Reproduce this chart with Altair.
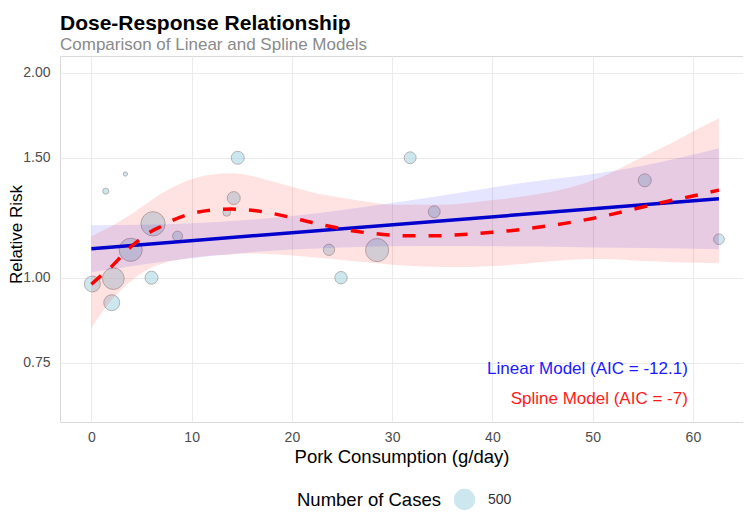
import altair as alt
import pandas as pd

# ---- observed studies (bubbles) ----
dose = [0.1, 1.43, 3.39, 2.19, 2.03, 3.92, 6.15, 6.0, 8.6, 13.5, 14.2, 14.6,
        23.7, 24.9, 28.5, 31.8, 34.2, 55.2, 62.6]
rr = [0.979, 1.34, 1.42, 0.997, 0.919, 1.099, 1.20, 1.0, 1.151, 1.247, 1.309, 1.50,
      1.099, 1.0, 1.098, 1.50, 1.25, 1.39, 1.139]
cases = [280, 40, 20, 520, 280, 590, 650, 185, 110, 65, 185, 185,
         140, 170, 590, 155, 155, 185, 125]

# ---- linear model fit and CI ----
lin_line_x = [0, 62.6]
lin_line_y = [1.103, 1.306]
lin_x = [0, 5, 10, 15, 20, 25, 30, 35, 40, 45, 50, 55, 62.6]
lin_lo = [1.019, 1.045, 1.068, 1.087, 1.100, 1.108, 1.112, 1.113, 1.112, 1.111, 1.108, 1.106, 1.101]
lin_hi = [1.194, 1.196, 1.202, 1.214, 1.232, 1.257, 1.287, 1.320, 1.357, 1.39, 1.42, 1.46, 1.549]

# ---- spline model fit ----
spl_x = [0, 1, 2, 3, 4, 5, 6, 7, 8, 10, 12, 14, 16, 18, 20, 22, 24, 26, 28, 30,
         32, 34, 36, 38, 40, 42, 44, 46, 48, 50, 52, 54, 56, 58, 60, 62.6]
spl_y = [0.978, 1.008, 1.038, 1.075, 1.112, 1.143, 1.17, 1.19, 1.212, 1.242, 1.257, 1.261,
         1.256, 1.243, 1.225, 1.205, 1.188, 1.172, 1.162, 1.155, 1.152, 1.152, 1.155,
         1.160, 1.166, 1.173, 1.183, 1.194, 1.207, 1.222, 1.240, 1.260, 1.280, 1.300,
         1.318, 1.345]

# ---- spline CI ----
sci_x = [0, 1, 2, 3, 4, 5, 6, 7, 8, 10, 12, 14, 16, 18, 20, 22, 25, 28, 30, 32, 35,
         38, 40, 42, 45, 48, 50, 52, 54, 56, 58, 60, 62.6]
sci_hi = [1.15, 1.17, 1.19, 1.215, 1.24, 1.27, 1.30, 1.33, 1.355, 1.395, 1.418, 1.423,
          1.41, 1.385, 1.36, 1.335, 1.31, 1.29, 1.28, 1.28, 1.28, 1.29, 1.30, 1.31, 1.33,
          1.36, 1.39, 1.43, 1.48, 1.53, 1.58, 1.64, 1.715]
sci_lo = [0.843, 0.887, 0.927, 0.96, 0.99, 1.015, 1.035, 1.048, 1.058, 1.07, 1.078, 1.082,
          1.085, 1.083, 1.078, 1.072, 1.062, 1.052, 1.045, 1.04, 1.037, 1.037, 1.04, 1.045,
          1.055, 1.063, 1.065, 1.064, 1.06, 1.057, 1.054, 1.052, 1.05]

# ---- annotations ----
ann_text = ["Linear Model (AIC = -12.1)", "Spline Model (AIC = -7)"]
ann_x = [59.5, 59.5]
ann_y = [0.734, 0.663]
ann_col = ["#1a1aff", "#ff1a1a"]

pts = pd.DataFrame({"dose": dose, "rr": rr, "cases": cases})
lin_line = pd.DataFrame({"dose": lin_line_x, "rr": lin_line_y})
lin_band = pd.DataFrame({"dose": lin_x, "lo": lin_lo, "hi": lin_hi})
spl = pd.DataFrame({"dose": spl_x, "rr": spl_y})
spl_band = pd.DataFrame({"dose": sci_x, "lo": sci_lo, "hi": sci_hi})
ann = pd.DataFrame({"dose": ann_x, "rr": ann_y, "label": ann_text, "col": ann_col})

xscale = alt.Scale(domain=[-3.13, 65.0], nice=False, zero=False)
yscale = alt.Scale(type="log", domain=[0.614, 2.116], nice=False)
xaxis = alt.Axis(values=[0, 10, 20, 30, 40, 50, 60], title="Pork Consumption (g/day)",
                 labelPadding=8)
yaxis = alt.Axis(values=[0.75, 1.0, 1.5, 2.0], format=".2f", title="Relative Risk",
                 titleX=-52, titleY=178, titleBaseline="top", titleAlign="center")

X = alt.X("dose:Q", scale=xscale, axis=xaxis)

points = alt.Chart(pts).mark_circle(
    color="lightblue", opacity=0.6, stroke="gray", strokeWidth=1
).encode(
    x=X,
    y=alt.Y("rr:Q", scale=yscale, axis=yaxis),
    size=alt.Size(
        "cases:Q",
        scale=alt.Scale(domain=[0, 1000], range=[0, 905]),
        legend=alt.Legend(
            title="Number of Cases", values=[500], orient="none",
            legendX=237, legendY=432, direction="horizontal",
            titleOrient="left", titleFontSize=18.5, titleFontWeight="normal",
            titleColor="black", titleBaseline="middle", titlePadding=12,
            labelFontSize=14, labelColor="#333333", labelOffset=12,
            symbolFillColor="lightblue", symbolStrokeColor="gray",
            symbolOpacity=0.6, symbolStrokeWidth=1, padding=0,
        ),
    ),
)

blue_band = alt.Chart(lin_band).mark_area(
    color="blue", opacity=0.1, interpolate="monotone"
).encode(x=X, y=alt.Y("lo:Q", scale=yscale, axis=yaxis), y2="hi:Q")

pink_band = alt.Chart(spl_band).mark_area(
    color="red", opacity=0.11, interpolate="monotone"
).encode(x=X, y=alt.Y("lo:Q", scale=yscale, axis=yaxis), y2="hi:Q")

blue_line = alt.Chart(lin_line).mark_line(
    color="#0000CD", strokeWidth=3.5
).encode(x=X, y=alt.Y("rr:Q", scale=yscale, axis=yaxis))

red_line = alt.Chart(spl).mark_line(
    color="#FF0000", strokeWidth=3.5, strokeDash=[13, 13], interpolate="monotone"
).encode(x=X, y=alt.Y("rr:Q", scale=yscale, axis=yaxis))

labels = alt.Chart(ann).mark_text(
    align="right", baseline="middle", fontSize=17
).encode(
    x=X, y=alt.Y("rr:Q", scale=yscale, axis=yaxis),
    text="label:N", color=alt.Color("col:N", scale=None),
)

chart = alt.layer(points, blue_band, pink_band, blue_line, red_line, labels).properties(
    width=683,
    height=366,
    autosize="none",
    padding={"left": 52, "top": 48, "right": 0, "bottom": 91},
    title=alt.TitleParams(
        text="Dose-Response Relationship",
        subtitle="Comparison of Linear and Spline Models",
        anchor="start", frame="group", fontSize=21, fontWeight="bold",
        color="black", subtitleFontSize=17, subtitleColor="#8a8a8a",
        subtitlePadding=3, offset=3,
    ),
).configure(font="Liberation Sans").configure_view(
    stroke="#D9D9D9", strokeWidth=1
).configure_axis(
    grid=True, gridColor="#EBEBEB", gridWidth=1.1, domain=False, ticks=False,
    labelFontSize=14, labelColor="#4D4D4D", labelPadding=10,
    titleFontSize=18.5, titleFontWeight="normal", titleColor="black",
).configure_axisY(titleFontSize=17).configure_axisX(titlePadding=3)

chart.save("out.html", embed_options={"renderer": "svg", "actions": False})
